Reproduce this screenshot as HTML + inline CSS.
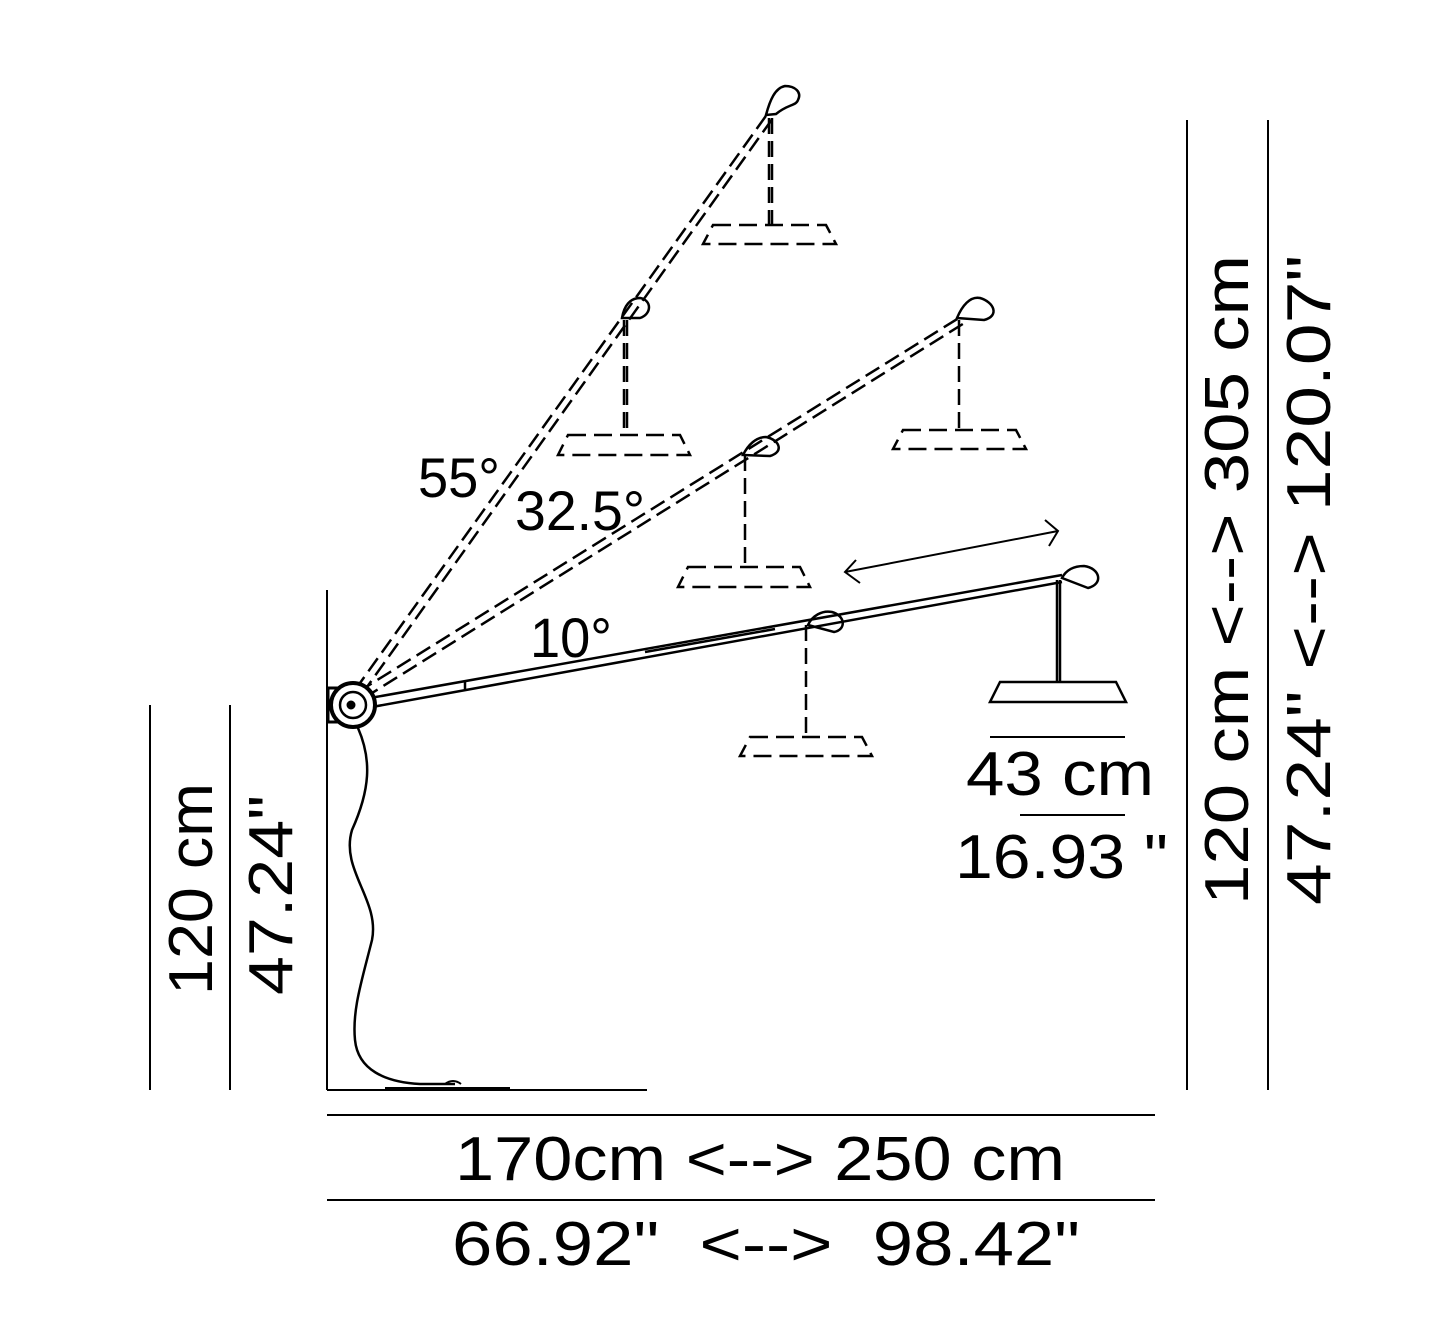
<!DOCTYPE html>
<html><head><style>html,body{margin:0;padding:0;background:#fff}svg{display:block}</style></head>
<body>
<svg width="1442" height="1342" viewBox="0 0 1442 1342" xmlns="http://www.w3.org/2000/svg" font-family="Liberation Sans, sans-serif" fill="none" stroke="#000">
<g stroke-width="2">
<line x1="327" y1="590" x2="327" y2="1090"/>
<line x1="327" y1="1090" x2="647" y2="1090"/>
<line x1="150" y1="705" x2="150" y2="1090"/>
<line x1="230" y1="705" x2="230" y2="1090"/>
<line x1="1187" y1="120" x2="1187" y2="1090"/>
<line x1="1268" y1="120" x2="1268" y2="1090"/>
<line x1="327" y1="1115" x2="1155" y2="1115"/>
<line x1="327" y1="1200" x2="1155" y2="1200"/>
<line x1="990" y1="737" x2="1125" y2="737"/>
<line x1="1020" y1="815" x2="1125" y2="815"/>
</g>
<path d="M358 728 C372 760 370 790 352 830 C340 870 380 900 372 940 C362 980 352 1010 355 1040 C358 1070 385 1082 420 1084 L455 1084" stroke-width="2.5"/>
<path d="M385 1088 L510 1088 M445 1084 q8 -6 16 0" stroke-width="2"/>
<g stroke-width="2.5" stroke-dasharray="16 7">
<line x1="355" y1="690" x2="768" y2="113"/>
<line x1="362" y1="694" x2="773" y2="118"/>
<line x1="358" y1="692" x2="962" y2="316"/>
<line x1="364" y1="698" x2="966" y2="322"/>
<line x1="769" y1="118" x2="769" y2="225"/>
<line x1="772" y1="118" x2="772" y2="225"/>
<line x1="624" y1="320" x2="624" y2="435"/>
<line x1="627" y1="320" x2="627" y2="435"/>
<line x1="959" y1="320" x2="959" y2="430"/>
<line x1="745" y1="455" x2="745" y2="567"/>
<line x1="806" y1="625" x2="806" y2="737"/>
</g>
<g stroke-width="2.5" stroke-dasharray="18 8">
<path d="M713 225 L826 225 L836 244 L703 244 Z"/>
<path d="M568 435 L680 435 L690 455 L558 455 Z"/>
<path d="M903 430 L1016 430 L1026 449 L893 449 Z"/>
<path d="M688 567 L800 567 L810 587 L678 587 Z"/>
<path d="M750 737 L862 737 L872 756 L740 756 Z"/>
</g>
<g stroke-width="2.5">
<line x1="370" y1="698" x2="1062" y2="575"/>
<line x1="372" y1="707" x2="1062" y2="582"/>
<line x1="645" y1="652" x2="775" y2="629"/>
<line x1="465" y1="681" x2="465" y2="689"/>
<line x1="1057" y1="580" x2="1057" y2="682"/>
<line x1="1060" y1="580" x2="1060" y2="682"/>
<path d="M1000 682 L1116 682 L1126 702 L990 702 Z"/>
</g>
<rect x="328" y="688" width="12" height="34" stroke-width="3"/>
<circle cx="353" cy="705" r="22" stroke-width="4" fill="#fff"/>
<circle cx="353" cy="705" r="13" stroke-width="2.5"/>
<circle cx="351" cy="705" r="4" fill="#000"/>
<g stroke-width="2.5">
<path d="M766 115 C770 100 775 88 785 86 C795 86 802 92 798 100 C796 106 788 104 776 114 Z"/>
<path d="M622 318 C624 306 630 298 640 298 C652 300 652 314 640 318 Z"/>
<path d="M957 318 C962 306 970 296 980 298 C994 302 1000 316 984 320 Z"/>
<path d="M743 455 C748 445 756 437 766 437 C780 440 784 452 770 456 Z"/>
<path d="M808 625 C812 616 822 610 832 612 C846 616 846 630 834 632 Z"/>
<path d="M1062 578 C1066 570 1074 566 1084 566 C1100 568 1104 584 1088 588 Z"/>
</g>
<g stroke-width="2">
<line x1="845" y1="572" x2="1058" y2="531"/>
<path d="M856 560 L845 572 L860 583"/>
<path d="M1045 520 L1058 531 L1049 546"/>
</g>
<g fill="#000" stroke="none" font-size="62">
<text x="418" y="497" font-size="56" textLength="82" lengthAdjust="spacingAndGlyphs">55°</text>
<text x="515" y="530" font-size="56" textLength="130" lengthAdjust="spacingAndGlyphs">32.5°</text>
<text x="530" y="657" font-size="56" textLength="82" lengthAdjust="spacingAndGlyphs">10°</text>
<text x="966" y="795" textLength="188" lengthAdjust="spacingAndGlyphs">43 cm</text>
<text x="955" y="878" textLength="213" lengthAdjust="spacingAndGlyphs">16.93 "</text>
<text x="455" y="1180" textLength="610" lengthAdjust="spacingAndGlyphs">170cm &lt;--&gt; 250 cm</text>
<text x="452" y="1265" textLength="628" lengthAdjust="spacingAndGlyphs" xml:space="preserve">66.92"  &lt;--&gt;  98.42"</text>
<text transform="translate(212,995) rotate(-90)" textLength="212" lengthAdjust="spacingAndGlyphs">120 cm</text>
<text transform="translate(292,995) rotate(-90)" textLength="200" lengthAdjust="spacingAndGlyphs">47.24"</text>
<text transform="translate(1248,905) rotate(-90)" textLength="650" lengthAdjust="spacingAndGlyphs">120 cm &lt;--&gt; 305 cm</text>
<text transform="translate(1330,905) rotate(-90)" textLength="650" lengthAdjust="spacingAndGlyphs">47.24" &lt;--&gt; 120.07"</text>
</g>
</svg>
</body></html>
